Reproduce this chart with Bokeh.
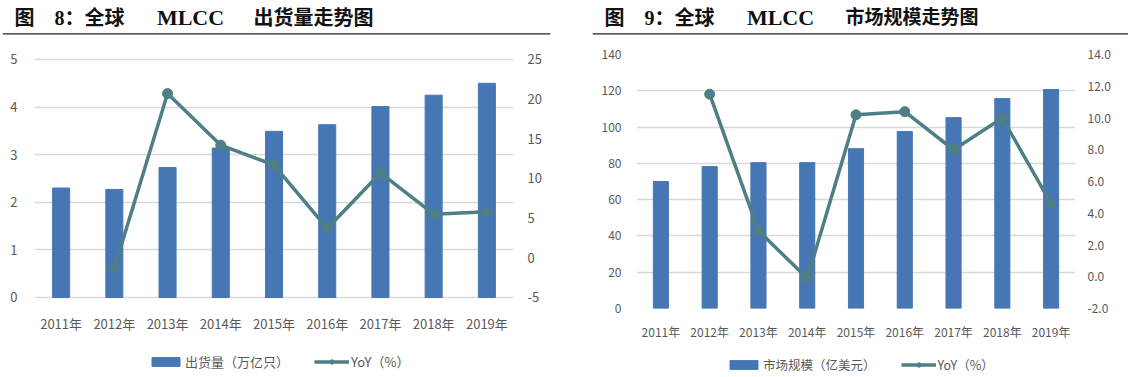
from bokeh.plotting import figure
from bokeh.models import (Range1d, LinearAxis, FixedTicker, PrintfTickFormatter, Label,
                          Span, Legend, LegendItem)
from bokeh.layouts import row, column
from bokeh.embed import file_html
from bokeh.resources import INLINE

years = ["2011年", "2012年", "2013年", "2014年", "2015年", "2016年", "2017年", "2018年", "2019年"]
yoy_years = years[1:]

shipments = [2.30, 2.27, 2.73, 3.14, 3.49, 3.63, 4.01, 4.25, 4.50]
shipments_yoy = [-1.3, 20.7, 14.2, 11.7, 3.7, 10.7, 5.5, 5.8]

market = [70.0, 78.2, 80.4, 80.4, 88.1, 97.5, 105.2, 115.7, 120.7]
market_yoy = [11.5, 2.9, -0.1, 10.2, 10.4, 8.0, 10.0, 4.6]

left1_ticks = [0, 1, 2, 3, 4, 5]
right1_ticks = [-5, 0, 5, 10, 15, 20, 25]
left2_ticks = [0, 20, 40, 60, 80, 100, 120, 140]
right2_ticks = [-2, 0, 2, 4, 6, 8, 10, 12, 14]

BAR = "#4677b4"
LINE = "#4e7f87"
GRID = "#d9d9d9"
TXT = "#595959"
FONT = "Noto Sans CJK SC"
TFONT = "Liberation Serif, Noto Sans CJK SC"
NB = "\u00a0"

W = 564
HEAD_H, CHART_H, FOOT_H = 37, 308, 32
CH_TOP, CH_BOTTOM = 17, 37   # both chart frames share the same vertical extent


def make_header(parts, b_left, b_right):
    h = figure(width=W, height=HEAD_H, x_range=Range1d(0, 1), y_range=Range1d(0, 1),
               x_axis_type=None, y_axis_type=None, output_backend="svg", toolbar_location=None,
               min_border_left=b_left, min_border_right=b_right, min_border_top=0,
               min_border_bottom=3)
    h.outline_line_color = None
    h.xgrid.grid_line_color = None
    h.ygrid.grid_line_color = None
    for text, x, size, align in parts:
        h.add_layout(Label(x=x, y=17, x_units="screen", y_units="screen",
                           text=text, text_font=TFONT, text_font_size=f"{size}px",
                           text_font_style="bold", text_color="#111111",
                           text_baseline="middle", text_align=align))
    h.add_layout(Span(location=0, dimension="width", line_color="#222222", line_width=2.5))
    return h


def style_axis(a, fs, standoff):
    a.axis_line_color = None
    a.major_tick_line_color = None
    a.minor_tick_line_color = None
    a.major_tick_out = 0
    a.major_tick_in = 0
    a.major_label_text_font = FONT
    a.major_label_text_font_size = f"{fs}px"
    a.major_label_text_color = TXT
    a.major_label_standoff = standoff


def make_chart(bars, yoy, yl, yr, lt, rt, rfmt, b_left, b_right, bar_w, fs,
               x_standoff, yl_standoff, yr_standoff):
    p = figure(x_range=years, width=W, height=CHART_H, output_backend="svg",
               toolbar_location=None, min_border_left=b_left, min_border_right=b_right,
               min_border_top=CH_TOP, min_border_bottom=CH_BOTTOM,
               y_range=Range1d(*yl))
    p.outline_line_color = None
    p.extra_y_ranges = {"yoy": Range1d(*yr)}

    p.vbar(x=years, top=bars, width=bar_w, color=BAR)
    p.line(x=yoy_years, y=yoy, y_range_name="yoy", color=LINE, line_width=3.5)
    p.scatter(x=yoy_years, y=yoy, y_range_name="yoy", size=10, color=LINE)

    p.xgrid.grid_line_color = None
    p.ygrid.grid_line_color = GRID
    p.ygrid.grid_line_width = 1.5

    style_axis(p.xaxis[0], fs, x_standoff)
    p.yaxis[0].ticker = FixedTicker(ticks=lt)
    style_axis(p.yaxis[0], fs, yl_standoff)

    ar = LinearAxis(y_range_name="yoy", ticker=FixedTicker(ticks=rt),
                    formatter=PrintfTickFormatter(format=rfmt))
    style_axis(ar, fs, yr_standoff)
    p.add_layout(ar, "right")
    return p


def make_footer(bars, yoy, bar_label, lfs, loc):
    # legend strip: same series, drawn out of this strip's view, only their legend shows
    f = figure(width=W, height=FOOT_H, x_range=years, y_range=Range1d(1000, 1001),
               x_axis_type=None, y_axis_type=None, output_backend="svg", toolbar_location=None,
               min_border_left=0, min_border_right=0, min_border_top=0, min_border_bottom=0)
    f.outline_line_color = None
    f.xgrid.grid_line_color = None
    f.ygrid.grid_line_color = None
    vb = f.vbar(x=years, top=bars, width=0.3, color=BAR)
    ln = f.line(x=yoy_years, y=yoy, color=LINE, line_width=3.5)
    sc = f.scatter(x=yoy_years, y=yoy, size=10, color=LINE)
    leg = Legend(items=[LegendItem(label=bar_label, renderers=[vb]),
                        LegendItem(label="YoY（%）", renderers=[ln, sc])],
                 location=loc, orientation="horizontal",
                 border_line_color=None, background_fill_alpha=0,
                 label_text_font=FONT, label_text_font_size=f"{lfs}px", label_text_color=TXT,
                 glyph_width=35, glyph_height=11, label_standoff=2, spacing=25,
                 padding=0, margin=0, label_height=14)
    f.add_layout(leg, "center")
    return f


h1 = make_header([("图" + NB * 4 + "8：全球", 12, 20, "left"), ("MLCC", 188, 22, "center"),
                  ("出货量走势图", 251, 20, "left")], 2, 14)
h2 = make_header([("图" + NB * 4 + "9：全球", 12, 20, "left"), ("MLCC", 188, 22, "center"),
                  ("市场规模走势图", 253, 19, "left")], 28, 0)

p1 = make_chart(shipments, shipments_yoy, (-0.2311, 5.105), (-6.387, 25.63),
                left1_ticks, right1_ticks, "%d", 34, 51, 0.32, 13, 5, 17, 14)
p2 = make_chart(market, market_yoy, (0, 140), (-2, 14),
                left2_ticks, right2_ticks, "%.1f", 72, 53, 0.31, 12, 14, 15, 12)

f1 = make_footer(shipments, shipments_yoy, "出货量（万亿只）", 13, (148, 6))
f2 = make_footer(market, market_yoy, "市场规模（亿美元）", 12.5, (162, 3))

layout = column(row(h1, h2), row(p1, p2), row(f1, f2))
open("out.html", "w").write(file_html(layout, INLINE))
